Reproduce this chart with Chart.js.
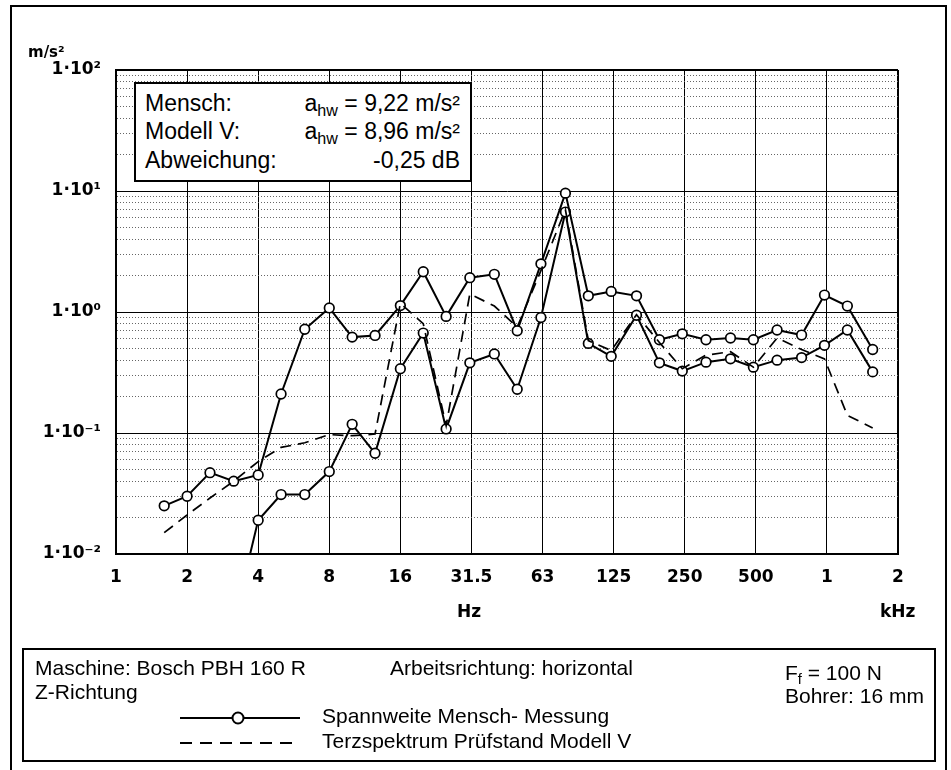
<!DOCTYPE html>
<html><head><meta charset="utf-8">
<script src="https://cdn.jsdelivr.net/npm/chart.js@4.4.1/dist/chart.umd.min.js"></script>
<style>
html,body{margin:0;padding:0;background:#fff;}
#wrap{position:relative;width:951px;height:770px;overflow:hidden;background:#fff;}
#c{position:absolute;left:0;top:0;}
.abs{position:absolute;white-space:nowrap;color:#000;}
.sans{font-family:"Liberation Sans",Arial,sans-serif;}
.bold{font-family:"DejaVu Sans",sans-serif;font-weight:bold;}
.t23{font-size:23px;line-height:26px;}
.t21{font-size:21px;line-height:24px;}
.u15{font-size:15px;line-height:18px;}
.u17{font-size:17px;line-height:20px;}
sub{font-size:0.7em;vertical-align:-0.3em;line-height:0;}
#frame{position:absolute;left:10px;top:5px;width:933px;height:800px;border:2px solid #000;}
#anno{position:absolute;left:134px;top:82px;width:334px;height:96px;border:2px solid #000;background:#fff;}
#legbox{position:absolute;left:22px;top:648px;width:910px;height:110px;border:2px solid #000;}
</style></head>
<body>
<div id="wrap">
  <div id="frame"></div>
  <canvas id="c" width="951" height="770"></canvas>
  <div class="abs bold u15" style="left:28px;top:43px">m/s²</div>
  <div class="abs bold u17" style="left:457px;top:601px">Hz</div>
  <div class="abs bold u17" style="left:880px;top:601px">kHz</div>

  <div id="anno"></div>
  <div class="abs sans t23" style="left:145px;top:90px">Mensch:</div>
  <div class="abs sans t23" style="right:491px;top:90px">a<sub>hw</sub> = 9,22 m/s²</div>
  <div class="abs sans t23" style="left:145px;top:118px">Modell V:</div>
  <div class="abs sans t23" style="right:491px;top:118px">a<sub>hw</sub> = 8,96 m/s²</div>
  <div class="abs sans t23" style="left:145px;top:147px">Abweichung:</div>
  <div class="abs sans t23" style="right:491px;top:147px">-0,25 dB</div>

  <div id="legbox"></div>
  <div class="abs sans t21" style="left:35px;top:656px">Maschine: Bosch PBH 160 R</div>
  <div class="abs sans t21" style="left:35px;top:680px">Z-Richtung</div>
  <div class="abs sans t21" style="left:390px;top:656px">Arbeitsrichtung: horizontal</div>
  <div class="abs sans t21" style="left:785px;top:661px">F<sub>f</sub> = 100 N</div>
  <div class="abs sans t21" style="left:785px;top:684px">Bohrer: 16 mm</div>
  <svg class="abs" style="left:175px;top:705px" width="130" height="50">
    <line x1="5" y1="13" x2="125" y2="13" stroke="#000" stroke-width="2"/>
    <circle cx="63" cy="13" r="5.5" fill="#fff" stroke="#000" stroke-width="2"/>
    <line x1="5" y1="38" x2="125" y2="38" stroke="#000" stroke-width="2" stroke-dasharray="12,8"/>
  </svg>
  <div class="abs sans t21" style="left:322px;top:704px">Spannweite Mensch- Messung</div>
  <div class="abs sans t21" style="left:322px;top:729px">Terzspektrum Prüfstand Modell V</div>
</div>
<script>
// Third-octave band centre frequencies (Hz)
const bands = [1.6,2,2.5,3.15,4,5,6.3,8,10,12.5,16,20,25,31.5,40,50,63,80,100,125,160,200,250,315,400,500,630,800,1000,1250,1600];
// Upper envelope of human measurement (m/s²)
const humanMax = [0.025,0.030,0.047,0.040,0.045,0.21,0.72,1.08,0.62,0.64,1.13,2.15,0.92,1.92,2.05,0.70,2.5,9.6,1.36,1.48,1.36,0.59,0.66,0.59,0.61,0.59,0.71,0.645,1.38,1.12,0.49];
// Lower envelope of human measurement (m/s²)
const humanMin = [null,null,null,0.0027,0.019,0.031,0.031,0.048,0.118,0.068,0.34,0.67,0.108,0.38,0.45,0.23,0.90,6.7,0.55,0.43,0.94,0.38,0.325,0.385,0.41,0.35,0.40,0.42,0.53,0.71,0.32];
// Test-rig model V third-octave spectrum (m/s²)
const modelV = [0.015,0.021,0.029,0.040,0.058,0.076,0.083,0.097,0.095,0.098,1.18,0.80,0.115,1.41,1.12,0.75,2.2,7.0,0.58,0.48,0.95,0.56,0.34,0.44,0.47,0.35,0.61,0.49,0.41,0.14,0.11];
// Axis ticks
const xTickValues = [1,2,4,8,16,32,64,128,256,512,1024,2048];
const xTickLabels = ['1','2','4','8','16','31.5','63','125','250','500','1','2'];
const yMajorValues = [0.01,0.1,1,10,100];
const yTickLabels = ['1·10⁻²','1·10⁻¹','1·10⁰','1·10¹','1·10²'];

const yAllTicks = [];
[0.01,0.1,1,10].forEach(d => { for (let m = 1; m <= 9; m++) yAllTicks.push(+(m*d).toPrecision(3)); });
yAllTicks.push(100);
const isMajor = v => yMajorValues.some(m => Math.abs(m - v) / m < 1e-6);
const toPts = arr => bands.map((f, i) => ({x: f, y: arr[i]}));
const tickFont = {family: '"DejaVu Sans", sans-serif', weight: 'bold', size: 17};

new Chart(document.getElementById('c'), {
  type: 'line',
  data: {
    datasets: [
      {label: 'Terzspektrum Prüfstand Modell V', data: toPts(modelV), borderColor: '#000', borderWidth: 1.7,
       borderDash: [11, 7], pointRadius: 0, tension: 0, fill: false},
      {label: 'Spannweite Mensch- Messung (max)', data: toPts(humanMax), borderColor: '#000', borderWidth: 2,
       pointRadius: 4.8, pointBorderWidth: 1.7, pointBackgroundColor: '#fff', pointBorderColor: '#000', tension: 0, fill: false},
      {label: 'Spannweite Mensch- Messung (min)', data: toPts(humanMin), borderColor: '#000', borderWidth: 2,
       pointRadius: c => (c.raw && c.raw.y !== null && c.raw.y < 0.01) ? 0 : 4.8,
       pointBorderWidth: 1.7, pointBackgroundColor: '#fff', pointBorderColor: '#000', tension: 0, fill: false}
    ]
  },
  options: {
    responsive: false, animation: false, devicePixelRatio: 1,
    layout: {padding: {top: 70, right: 53, bottom: 176, left: 0}},
    plugins: {legend: {display: false}, tooltip: {enabled: false}},
    scales: {
      x: {
        type: 'logarithmic', min: 1, max: 2048,
        afterBuildTicks: s => { s.ticks = xTickValues.map(v => ({value: v})); },
        afterFit: s => { s.height = 40; },
        ticks: {callback: (v, i) => xTickLabels[i], autoSkip: false, maxRotation: 0, padding: 13, color: '#000', font: tickFont},
        grid: {color: '#000', lineWidth: c => (c.tick && c.tick.value === 2048) ? 2 : 1, drawTicks: false},
        border: {display: true, color: '#000', width: 2}
      },
      y: {
        type: 'logarithmic', min: 0.01, max: 100,
        afterBuildTicks: s => { s.ticks = yAllTicks.map(v => ({value: v})); },
        afterFit: s => { s.width = 116; },
        ticks: {
          autoSkip: false, padding: 15, color: '#000', font: tickFont,
          callback: v => { const k = yMajorValues.findIndex(m => Math.abs(m - v) / m < 1e-6); return k >= 0 ? yTickLabels[k] : ''; }
        },
        grid: {
          drawTicks: false,
          color: c => (c.tick && !isMajor(c.tick.value)) ? '#666' : '#000',
          lineWidth: c => (c.tick && c.tick.value === 100) ? 2 : 1
        },
        border: {display: true, color: '#000', width: 2,
          dash: c => (c.tick && !isMajor(c.tick.value)) ? [1, 2] : []}
      }
    }
  }
});
</script>
</body></html>
